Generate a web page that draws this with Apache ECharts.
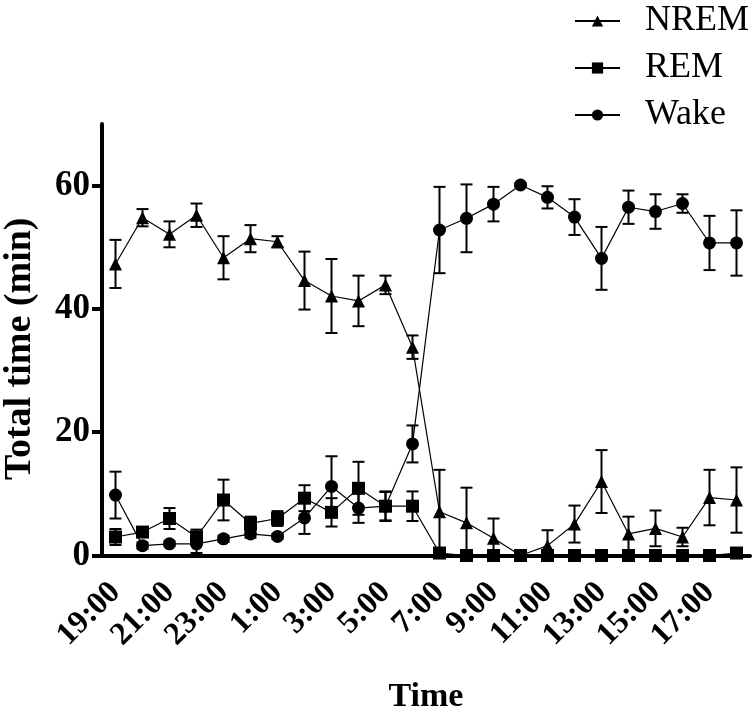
<!DOCTYPE html>
<html>
<head>
<meta charset="utf-8">
<script src="https://cdn.jsdelivr.net/npm/echarts@6/dist/echarts.min.js"></script>
<style>html,body{margin:0;padding:0;background:#fff;}#c{width:756px;height:709px;}</style>
</head>
<body>
<div id="c"></div>
<script>
const categories = ['19:00','20:00','21:00','22:00','23:00','0:00','1:00','2:00','3:00','4:00','5:00','6:00','7:00','8:00','9:00','10:00','11:00','12:00','13:00','14:00','15:00','16:00','17:00','18:00'];
const nremMean = [47.3,54.8,52.1,55.2,48.3,51.4,50.9,44.6,42.1,41.3,43.9,33.8,7.1,5.3,2.8,0,1.6,5.1,12.0,3.5,4.4,3.0,9.4,9.0];
const nremErr  = [3.9,1.4,2.1,1.9,3.5,2.2,0.9,4.7,6.0,4.1,1.5,1.9,6.8,5.7,3.2,0,2.5,3.0,5.1,2.8,2.9,1.5,4.5,5.3];
const remMean  = [3.0,3.8,6.0,3.0,9.0,5.2,6.0,9.3,7.0,10.9,8.0,8.0,0.4,0,0,0,0,0,0,0,0,0,0,0.4];
const remErr   = [1.3,0.7,1.7,1.2,3.3,1.1,1.2,2.1,2.3,4.3,2.4,2.4,0,0,0,0,0,0,0,0,0,0,0,0];
const wakeMean = [9.8,1.6,1.9,1.9,2.7,3.5,3.1,6.1,11.2,7.7,8.0,18.1,52.8,54.7,57.0,60.1,58.1,54.9,48.2,56.5,55.8,57.1,50.7,50.7];
const wakeErr  = [3.8,0.5,0.4,1.5,0.5,0.6,0.4,2.6,4.9,2.4,2.3,3.0,7.0,5.5,2.8,0.3,1.8,2.9,5.1,2.7,2.8,1.5,4.4,5.3];
const yTicks = [0,20,40,60];

const FONT = 'Liberation Serif';

function errData(mean, err) {
  return categories.map((c, i) => [i, mean[i], err[i]]);
}
function errRender(params, api) {
  const x = api.value(0), m = api.value(1), e = api.value(2);
  if (!e) return;
  const top = api.coord([x, m + e]);
  const lowV = m - e;
  const bot = api.coord([x, Math.max(0, lowV)]);
  const hw = 6;
  const st = {stroke: '#000', lineWidth: 2};
  const children = [
    {type: 'line', shape: {x1: top[0], y1: top[1], x2: bot[0], y2: bot[1]}, style: st},
    {type: 'line', shape: {x1: top[0] - hw, y1: top[1], x2: top[0] + hw, y2: top[1]}, style: st}
  ];
  if (lowV > 0) children.push({type: 'line', shape: {x1: bot[0] - hw, y1: bot[1], x2: bot[0] + hw, y2: bot[1]}, style: st});
  return {type: 'group', children};
}
function lineSeries(name, data, symbol) {
  return {
    name, type: 'line', data, symbol, symbolSize: 13, showAllSymbol: true,
    itemStyle: {color: '#000'}, lineStyle: {color: '#000', width: 1.2},
    z: 5, animation: false, clip: false
  };
}
function errSeries(mean, err) {
  return {type: 'custom', renderItem: errRender, data: errData(mean, err), z: 3, animation: false, silent: true,
    encode: {x: 0, y: 1}};
}

const chart = echarts.init(document.getElementById('c'), null, {renderer: 'canvas'});
chart.setOption({
  animation: false,
  backgroundColor: '#fff',
  grid: {left: 102, right: 6, top: 124, bottom: 153.5, containLabel: false, outerBoundsMode: 'none'},
  legend: {
    orient: 'vertical', left: 569, top: -2,
    data: ['NREM', 'REM', 'Wake'],
    itemWidth: 45, itemHeight: 14, itemGap: 11,
    textStyle: {fontFamily: FONT, fontSize: 36, color: '#000', padding: [0, 0, 0, 20], lineHeight: 36}
  },
  xAxis: {
    type: 'category', data: categories, boundaryGap: true,
    name: 'Time', nameLocation: 'middle', nameGap: 125,
    nameTextStyle: {fontFamily: FONT, fontWeight: 'bold', fontSize: 34, color: '#000'},
    axisLine: {lineStyle: {color: '#000', width: 4}},
    axisTick: {alignWithLabel: true, interval: 1, length: 10, lineStyle: {color: '#000', width: 4}},
    axisLabel: {interval: 1, rotate: 45, margin: 32, fontFamily: FONT, fontWeight: 'bold', fontSize: 32, color: '#000', hideOverlap: false},
    splitLine: {show: false}
  },
  yAxis: {
    type: 'value', min: 0, max: 70, interval: 20,
    name: 'Total time (min)', nameLocation: 'middle', nameGap: 63,
    nameTextStyle: {fontFamily: FONT, fontWeight: 'bold', fontSize: 38, color: '#000', padding: [0, 18, 0, 0]},
    axisLine: {show: true, lineStyle: {color: '#000', width: 4}},
    axisTick: {show: true, length: 10, customValues: yTicks, lineStyle: {color: '#000', width: 4}},
    axisLabel: {margin: 12, customValues: yTicks, fontFamily: FONT, fontWeight: 'bold', fontSize: 35, color: '#000'},
    splitLine: {show: false}
  },
  series: [
    errSeries(nremMean, nremErr),
    errSeries(remMean, remErr),
    errSeries(wakeMean, wakeErr),
    lineSeries('NREM', nremMean, 'triangle'),
    lineSeries('REM', remMean, 'rect'),
    lineSeries('Wake', wakeMean, 'circle')
  ]
});
</script>
</body>
</html>
